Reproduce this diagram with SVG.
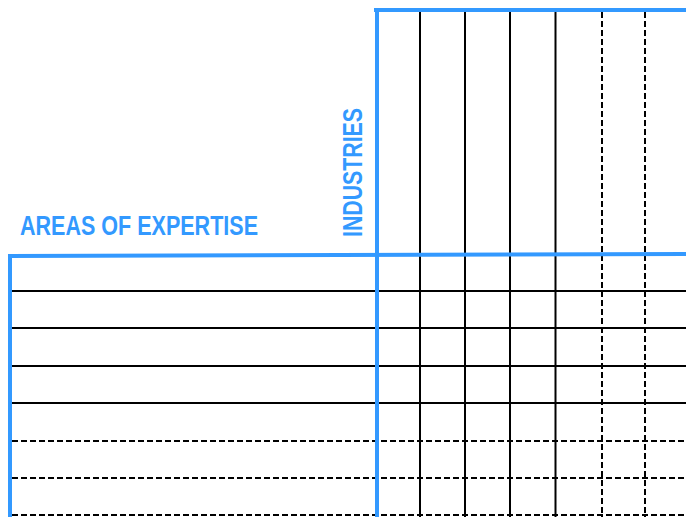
<svg xmlns="http://www.w3.org/2000/svg" width="686" height="517" viewBox="0 0 686 517">
<style>
.blue{stroke:#3399ff;stroke-width:4;fill:none}
.solid{stroke:#000;stroke-width:2;fill:none}
.dash{stroke:#000;stroke-width:2;fill:none;stroke-dasharray:6 3}
.lbl{font-family:"Liberation Sans",Arial,sans-serif;font-weight:bold;font-size:27px;fill:#3399ff}
</style>
<rect width="686" height="517" fill="#fff"/>
<g id="grid">
<g id="rows">
<line class="solid" x1="12" y1="291" x2="686" y2="291"/>
<line class="solid" x1="12" y1="328" x2="686" y2="328"/>
<line class="solid" x1="12" y1="366" x2="686" y2="366"/>
<line class="solid" x1="12" y1="403" x2="686" y2="403"/>
<line class="dash" x1="12" y1="441" x2="686" y2="441"/>
<line class="dash" x1="12" y1="478" x2="686" y2="478"/>
<line class="dash" x1="12" y1="515" x2="686" y2="515"/>
</g>
<g id="cols">
<line class="solid" x1="420" y1="12" x2="420" y2="517"/>
<line class="solid" x1="465" y1="12" x2="465" y2="517"/>
<line class="solid" x1="510" y1="12" x2="510" y2="517"/>
<line class="solid" x1="555.5" y1="12" x2="555.5" y2="517"/>
<line class="dash" x1="602" y1="12" x2="602" y2="517"/>
<line class="dash" x1="645" y1="12" x2="645" y2="517"/>
</g>
<g id="frame">
<line class="blue" x1="374" y1="10" x2="686" y2="10"/>
<line class="blue" x1="377" y1="10" x2="377" y2="517"/>
<line class="blue" x1="8" y1="256" x2="686" y2="254"/>
<line class="blue" x1="10" y1="254" x2="10" y2="517"/>
</g>
</g>
<g id="areas"><text class="lbl" x="20" y="235" textLength="238" lengthAdjust="spacingAndGlyphs">AREAS OF EXPERTISE</text></g>
<g id="industries"><text class="lbl" transform="translate(361.5,237) rotate(-90)" x="0" y="0" textLength="129" lengthAdjust="spacingAndGlyphs">INDUSTRIES</text></g>
</svg>
